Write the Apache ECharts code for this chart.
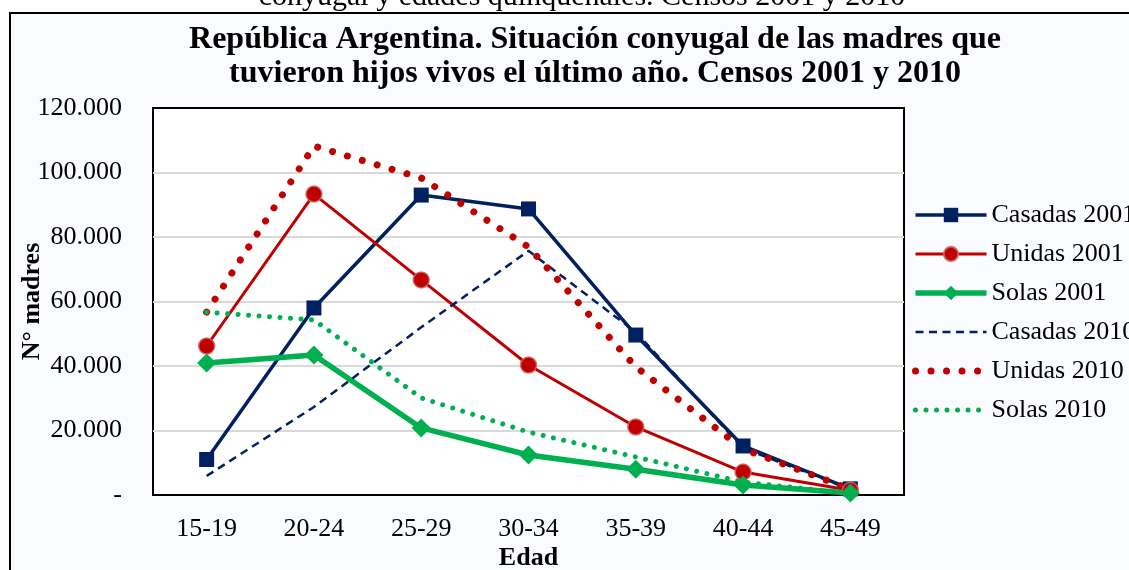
<!DOCTYPE html>
<html><head><meta charset="utf-8">
<script src="https://cdn.jsdelivr.net/npm/echarts@6/dist/echarts.min.js"></script>
<style>html,body{margin:0;padding:0;background:#fff}#c{width:1129px;height:570px}</style>
</head><body><div id="c"></div>
<script>
const categories = ['15-19','20-24','25-29','30-34','35-39','40-44','45-49'];
const casadas2001 = [11000, 58000, 93000, 88700, 49600, 15200, 1900];
const unidas2001  = [46200, 93300, 66700, 40300, 21100, 7100, 1500];
const solas2001   = [40900, 43400, 20800, 12400, 8000, 3100, 600];
const casadas2010 = [5900, 27300, 52000, 75700, 50500, 14500, 1800];
const unidas2010  = [56700, 108200, 98300, 76900, 39700, 14300, 1800];
const solas2010   = [56700, 54300, 30100, 19500, 11800, 4000, 500];
const seriesNames = ['Casadas 2001','Unidas 2001','Solas 2001','Casadas 2010','Unidas 2010','Solas 2010'];
const titleText = 'República Argentina. Situación conyugal de las madres que\ntuvieron hijos vivos el último año. Censos 2001 y 2010';
const cutText = 'conyugal y edades quinquenales. Censos 2001 y 2010';

const NAVY = '#002060', RED = '#c00000', GREEN = '#00b050';
const FONT = '"Liberation Serif", "Times New Roman", serif';

function fmt(v){
  if (v === 0) return '-';
  return String(v).replace(/\B(?=(\d{3})+(?!\d))/g, '.');
}

const legendData = seriesNames.map(function(n, i){
  return i < 3 ? {name:n} : {name:n, itemStyle:{opacity:0}};
});

const chart = echarts.init(document.getElementById('c'), null, {renderer:'canvas'});
chart.setOption({
  backgroundColor: '#ffffff',
  animation: false,
  graphic: [
    {type:'rect', shape:{x:10, y:13, width:1140, height:580}, style:{fill:'#f9fbfe', stroke:'#000', lineWidth:2}, z:-10},
    {type:'text', x:582, y:-3, style:{text:cutText, font:'30px ' + FONT, fill:'#000', align:'center', verticalAlign:'middle'}}
  ],
  title: {
    text: titleText,
    left: 590, textAlign: 'center', top: 18,
    textStyle: {fontFamily: FONT, fontWeight:'bold', fontSize: 32, lineHeight: 34, color:'#000'}
  },
  legend: {
    orient: 'vertical',
    left: 907, top: 197,
    itemWidth: 71, itemHeight: 18, itemGap: 13,
    lineStyle: {width:'inherit'},
    textStyle: {fontFamily: FONT, fontSize: 26, color:'#000'},
    data: legendData
  },
  grid: {left:153, right:225, top:108, bottom:75, outerBoundsMode:'none', show:true, backgroundColor:'#fff', borderColor:'#000', borderWidth:2},
  xAxis: {
    type:'category', data: categories, boundaryGap:true,
    name:'Edad', nameLocation:'middle', nameGap: 50, nameMoveOverlap:false,
    nameTextStyle:{fontFamily:FONT, fontWeight:'bold', fontSize:26, color:'#000'},
    axisLine:{show:false}, axisTick:{show:false},
    axisLabel:{fontFamily:FONT, fontSize:26, color:'#000', margin:21}
  },
  yAxis: {
    type:'value', min:0, max:120000, interval:20000,
    name:'N° madres', nameLocation:'middle', nameGap: 108, nameRotate: 90, nameMoveOverlap:false,
    nameTextStyle:{fontFamily:FONT, fontWeight:'bold', fontSize:26, color:'#000'},
    axisLine:{show:false}, axisTick:{show:false},
    splitLine:{lineStyle:{color:['rgba(0,0,0,0)','#d9d9d9','#d9d9d9','#d9d9d9','#d9d9d9','#d9d9d9','rgba(0,0,0,0)'], width:2}},
    axisLabel:{fontFamily:FONT, fontSize:26, color:'#000', margin:31, formatter: fmt}
  },
  series: [
    {name:'Casadas 2001', type:'line', data:casadas2001, symbol:'rect', symbolSize:15,
     lineStyle:{color:NAVY, width:3.5}, itemStyle:{color:NAVY}},
    {name:'Unidas 2001', type:'line', data:unidas2001, symbol:'circle', symbolSize:16,
     lineStyle:{color:RED, width:3}, itemStyle:{color:RED, borderColor:'rgba(210,100,100,0.85)', borderWidth:1.5}},
    {name:'Solas 2001', type:'line', data:solas2001, symbol:'diamond', symbolSize:19,
     lineStyle:{color:GREEN, width:5.5}, itemStyle:{color:GREEN}},
    {name:'Casadas 2010', type:'line', data:casadas2010, symbol:'none',
     lineStyle:{color:NAVY, width:2.5, type:[8,5.5]}, itemStyle:{color:NAVY}},
    {name:'Unidas 2010', type:'line', data:unidas2010, symbol:'none',
     lineStyle:{color:RED, width:7, type:[0.01,15.5], cap:'round'}, itemStyle:{color:RED}},
    {name:'Solas 2010', type:'line', data:solas2010, symbol:'none',
     lineStyle:{color:GREEN, width:5, type:[0.01,10.5], cap:'round'}, itemStyle:{color:GREEN}}
  ]
});
</script>
</body></html>
